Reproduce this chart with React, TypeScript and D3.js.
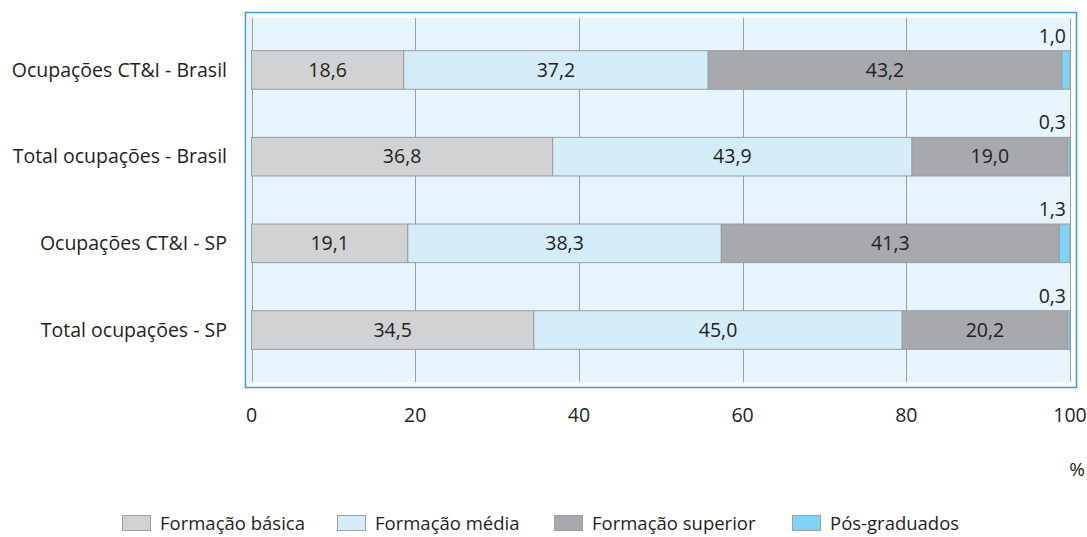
import React, { useEffect, useRef } from "react";
import * as d3 from "d3";

/* Data */
const categories = [
  "Ocupações CT&I - Brasil",
  "Total ocupações - Brasil",
  "Ocupações CT&I - SP",
  "Total ocupações - SP",
];
const seriesNames = ["Formação básica", "Formação média", "Formação superior", "Pós-graduados"];
const basica = [18.6, 36.8, 19.1, 34.5];
const media = [37.2, 43.9, 38.3, 45.0];
const superior = [43.2, 19.0, 41.3, 20.2];
const posGrad = [1.0, 0.3, 1.3, 0.3];
const xTicks = [0, 20, 40, 60, 80, 100];

const App = () => {
  const ref = useRef<SVGSVGElement>(null);

  useEffect(() => {
    const width = 1087;
    const height = 537;
    const fontFamily = "'Open Sans', sans-serif";
    const fontSize = 19.5;
    const textColor = "#231f20";
    const colors = ["#d1d2d4", "#d5ecf9", "#a7a9ac", "#7fd3f4"];
    const barStroke = "#9b9b9b";

    const svg = d3.select(ref.current);
    svg.selectAll("*").remove();
    svg.attr("width", width).attr("height", height);

    /* scales */
    const x = d3.scaleLinear().domain([0, 100]).range([251.5, 1070]);
    const y = d3
      .scaleBand()
      .domain(categories)
      .range([18, 382])
      .paddingInner(0.555)
      .paddingOuter(0.377);

    /* frame + plot background */
    svg
      .append("rect")
      .attr("x", 245.5)
      .attr("y", 12.5)
      .attr("width", 831)
      .attr("height", 375)
      .attr("fill", "#fff")
      .attr("stroke", "#45a0c5")
      .attr("stroke-width", 1.6);

    svg
      .append("rect")
      .attr("x", 246.5)
      .attr("y", 18)
      .attr("width", x(100) - 246.5)
      .attr("height", 364)
      .attr("fill", "#e6f5fd");

    /* gridlines */
    svg
      .append("g")
      .selectAll("line")
      .data(xTicks)
      .join("line")
      .attr("x1", (d) => Math.round(x(d)) + 0.5)
      .attr("x2", (d) => Math.round(x(d)) + 0.5)
      .attr("y1", 18)
      .attr("y2", 382)
      .attr("stroke", "#9d9d9d")
      .attr("stroke-width", 1);

    /* stacked bars */
    const rows = categories.map((c, i) => ({
      cat: c,
      values: [basica[i], media[i], superior[i], posGrad[i]],
    }));
    const fmt = (v: number) => d3.format(".1f")(v).replace(".", ",");

    const barG = svg.append("g");
    rows.forEach((r) => {
      let acc = 0;
      const y0 = y(r.cat)!;
      const bh = y.bandwidth();
      r.values.forEach((v, k) => {
        const x0 = x(acc);
        const x1 = x(acc + v);
        barG
          .append("rect")
          .attr("x", x0)
          .attr("y", y0)
          .attr("width", x1 - x0)
          .attr("height", bh)
          .attr("fill", colors[k])
          .attr("stroke", barStroke)
          .attr("stroke-width", 1);
        if (k < 3) {
          barG
            .append("text")
            .attr("x", (x0 + x1) / 2)
            .attr("y", y0 + bh / 2)
            .attr("dy", "0.35em")
            .attr("text-anchor", "middle")
            .attr("font-family", fontFamily)
            .attr("font-size", fontSize)
            .attr("fill", textColor)
            .text(fmt(v));
        } else {
          /* small value sits above the bar end */
          barG
            .append("text")
            .attr("x", x(100) - 4)
            .attr("y", y0 - 8)
            .attr("text-anchor", "end")
            .attr("font-family", fontFamily)
            .attr("font-size", fontSize)
            .attr("fill", textColor)
            .text(fmt(v));
        }
        acc += v;
      });
    });

    /* category labels */
    svg
      .append("g")
      .selectAll("text")
      .data(categories)
      .join("text")
      .attr("x", 227)
      .attr("y", (d) => y(d)! + y.bandwidth() / 2)
      .attr("dy", "0.35em")
      .attr("text-anchor", "end")
      .attr("font-family", fontFamily)
      .attr("font-size", fontSize)
      .attr("fill", textColor)
      .text((d) => d);

    /* x tick labels */
    svg
      .append("g")
      .selectAll("text")
      .data(xTicks)
      .join("text")
      .attr("x", (d) => x(d))
      .attr("y", 415)
      .attr("dy", "0.35em")
      .attr("text-anchor", "middle")
      .attr("font-family", fontFamily)
      .attr("font-size", fontSize)
      .attr("fill", textColor)
      .text((d) => d);

    svg
      .append("text")
      .attr("x", 1085)
      .attr("y", 469)
      .attr("dy", "0.35em")
      .attr("text-anchor", "end")
      .attr("font-family", fontFamily)
      .attr("font-size", 19)
      .attr("fill", textColor)
      .text("%");

    /* legend */
    const legendX = [122, 337, 554, 792];
    const legend = svg
      .append("g")
      .selectAll("g")
      .data(seriesNames)
      .join("g")
      .attr("transform", (d, i) => `translate(${legendX[i]}, 515)`);
    legend
      .append("rect")
      .attr("x", 0.5)
      .attr("y", 0.5)
      .attr("width", 28)
      .attr("height", 15)
      .attr("fill", (d, i) => colors[i])
      .attr("stroke", "#a0a0a0")
      .attr("stroke-width", 1);
    legend
      .append("text")
      .attr("x", 38)
      .attr("y", 8.5)
      .attr("dy", "0.35em")
      .attr("font-family", fontFamily)
      .attr("font-size", 18.5)
      .attr("fill", textColor)
      .text((d) => d);
  }, []);

  return (
    <svg
      ref={ref}
      style={{ position: "absolute", left: 0, top: 0, display: "block" }}
      width={1087}
      height={537}
    />
  );
};

export default App;
